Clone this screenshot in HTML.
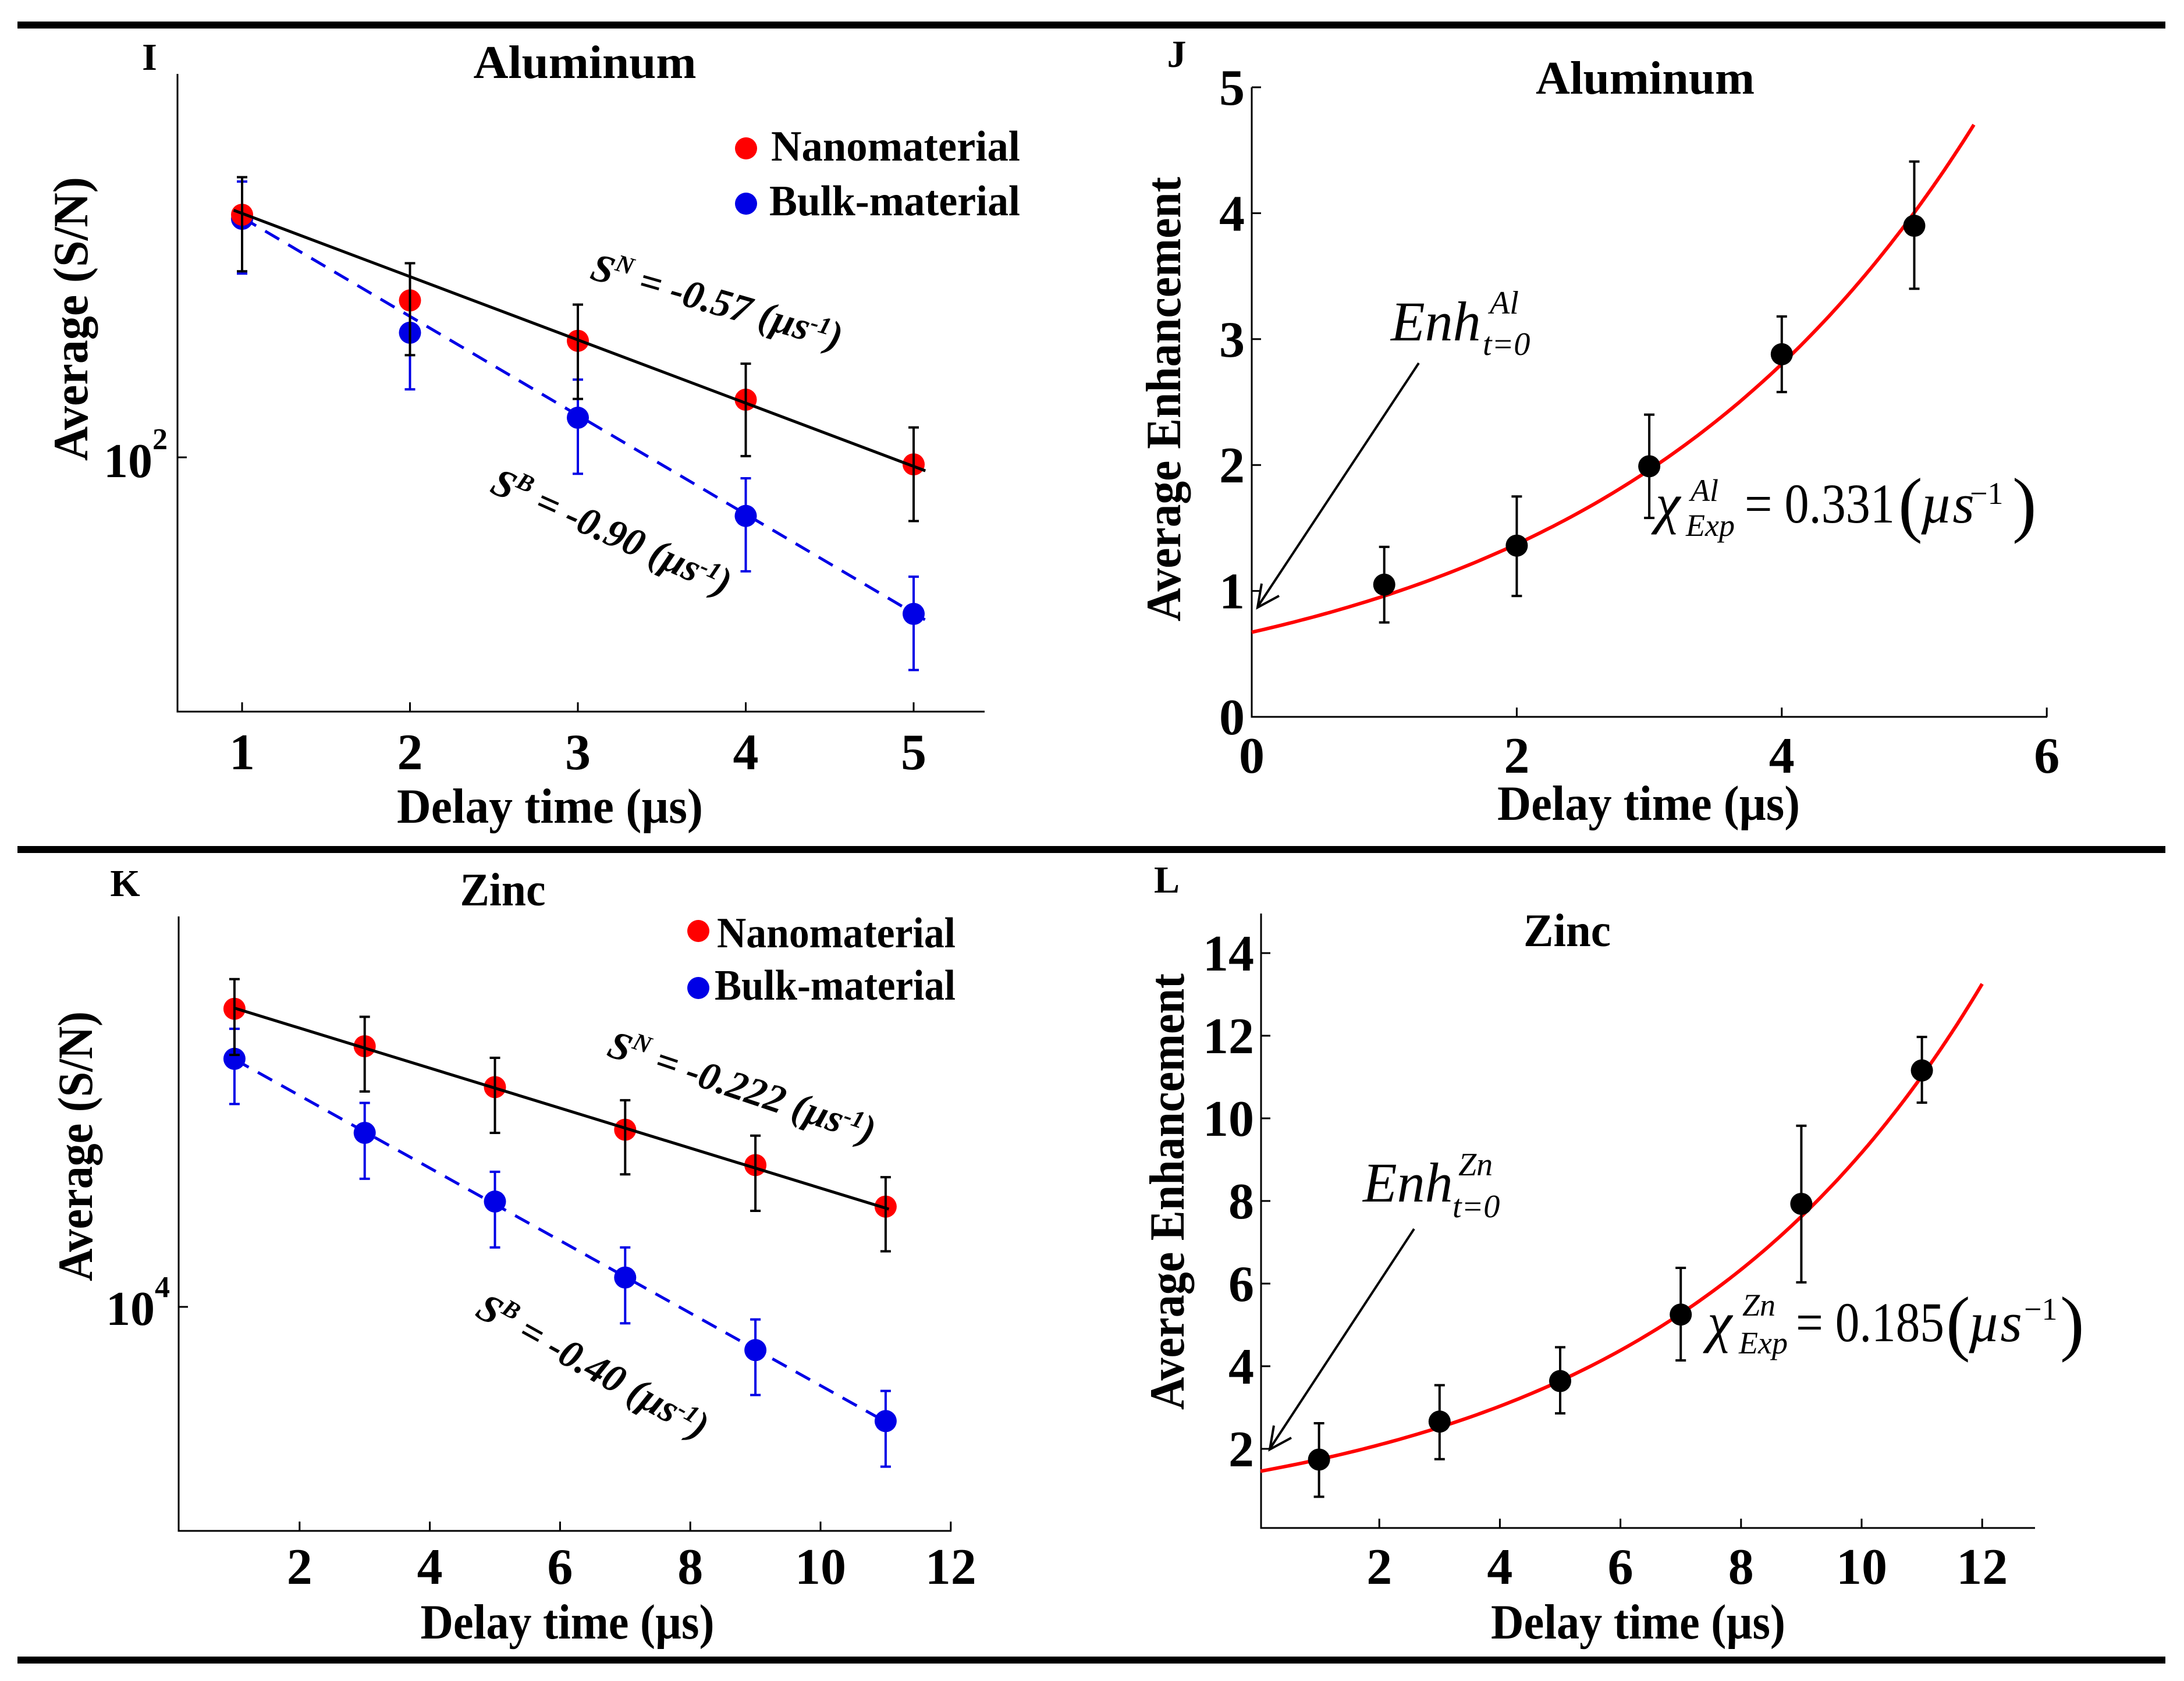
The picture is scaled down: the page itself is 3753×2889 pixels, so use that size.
<!DOCTYPE html>
<html><head><meta charset="utf-8"><title>Enhancement figure</title>
<style>
html,body{margin:0;padding:0;background:#fff;}
svg{display:block;}
text{font-family:"Liberation Serif",serif;}
.b{font-weight:bold;}
</style></head>
<body>
<svg id="fig" xmlns="http://www.w3.org/2000/svg" width="3753" height="2889" viewBox="0 0 3753 2889">
<rect x="0" y="0" width="3753" height="2889" fill="#fff"/>
<rect x="30" y="37" width="3691" height="12" fill="#000"/>
<rect x="30" y="1454" width="3691" height="12" fill="#000"/>
<rect x="30" y="2847" width="3691" height="12" fill="#000"/>

<!-- Panel I -->
<g id="pI">
<text x="257" y="120" class="b" font-size="66" text-anchor="middle">I</text>
<text x="1005" y="134" class="b" font-size="80" text-anchor="middle" textLength="383" lengthAdjust="spacingAndGlyphs">Aluminum</text>
<text transform="translate(150,548) rotate(-90)" class="b" font-size="85" text-anchor="middle" textLength="488" lengthAdjust="spacingAndGlyphs">Average (S/N)</text>
<text x="945" y="1414" class="b" font-size="85" text-anchor="middle" textLength="526" lengthAdjust="spacingAndGlyphs">Delay time (µs)</text>
<text x="178" y="820" class="b" font-size="84">10<tspan font-size="52" dy="-48">2</tspan></text>
<circle cx="1282" cy="255" r="19" fill="#f00"/>
<text x="1325" y="276" class="b" font-size="74" textLength="428" lengthAdjust="spacingAndGlyphs">Nanomaterial</text>
<circle cx="1282" cy="350" r="19" fill="#0000e6"/>
<text x="1322" y="370" class="b" font-size="74" textLength="431" lengthAdjust="spacingAndGlyphs">Bulk-material</text>
<text transform="translate(1226,540) rotate(16)" class="b" font-style="italic" font-size="68" text-anchor="middle">S<tspan font-size="42" dy="-26">N</tspan><tspan dy="26"> = -0.57 (µs</tspan><tspan font-size="42" dy="-20">-1</tspan><tspan dy="20">)</tspan></text>
<text transform="translate(1042,935) rotate(24)" class="b" font-style="italic" font-size="68" text-anchor="middle">S<tspan font-size="42" dy="-26">B</tspan><tspan dy="26"> = -0.90 (µs</tspan><tspan font-size="42" dy="-20">-1</tspan><tspan dy="20">)</tspan></text>
</g>

<!-- Panel J -->
<g id="pJ">
<text x="2022" y="115" class="b" font-size="66" text-anchor="middle">J</text>
<text x="2827" y="161" class="b" font-size="80" text-anchor="middle" textLength="376" lengthAdjust="spacingAndGlyphs">Aluminum</text>
<text transform="translate(2028,686) rotate(-90)" class="b" font-size="85" text-anchor="middle" textLength="764" lengthAdjust="spacingAndGlyphs">Average Enhancement</text>
<text x="2833" y="1409" class="b" font-size="85" text-anchor="middle" textLength="520" lengthAdjust="spacingAndGlyphs">Delay time (µs)</text>
<text x="2390" y="585" font-style="italic" font-size="96">Enh</text>
<text x="2560" y="539" font-style="italic" font-size="56">Al</text>
<text x="2548" y="610" font-style="italic" font-size="56">t=0</text>
<line x1="2438" y1="624" x2="2163" y2="1040" stroke="#000" stroke-width="4"/>
<polyline points="2168,1003 2161,1044 2198,1024" fill="none" stroke="#000" stroke-width="4"/>
<text x="2845" y="898" font-style="italic" font-size="96">χ</text>
<text x="2905" y="861" font-style="italic" font-size="54">Al</text>
<text x="2897" y="921" font-style="italic" font-size="54">Exp</text>
<text x="2998" y="898" font-size="96" textLength="258" lengthAdjust="spacingAndGlyphs">= 0.331</text>
<text x="3262" y="908" font-size="125">(</text>
<text x="3300" y="898" font-style="italic" font-size="96">µs</text>
<text x="3385" y="866" font-size="54">−1</text>
<text x="3458" y="908" font-size="125">)</text>
</g>

<!-- Panel K -->
<g id="pK">
<text x="215" y="1540" class="b" font-size="66" text-anchor="middle">K</text>
<text x="864" y="1556" class="b" font-size="80" text-anchor="middle" textLength="147" lengthAdjust="spacingAndGlyphs">Zinc</text>
<text transform="translate(158,1970) rotate(-90)" class="b" font-size="85" text-anchor="middle" textLength="464" lengthAdjust="spacingAndGlyphs">Average (S/N)</text>
<text x="975" y="2816" class="b" font-size="85" text-anchor="middle" textLength="505" lengthAdjust="spacingAndGlyphs">Delay time (µs)</text>
<text x="182" y="2277" class="b" font-size="84">10<tspan font-size="52" dy="-48">4</tspan></text>
<circle cx="1200" cy="1600" r="19" fill="#f00"/>
<text x="1232" y="1628" class="b" font-size="74" textLength="410" lengthAdjust="spacingAndGlyphs">Nanomaterial</text>
<circle cx="1200" cy="1698" r="19" fill="#0000e6"/>
<text x="1228" y="1718" class="b" font-size="74" textLength="414" lengthAdjust="spacingAndGlyphs">Bulk-material</text>
<text transform="translate(1268,1890) rotate(18.5)" class="b" font-style="italic" font-size="68" text-anchor="middle">S<tspan font-size="42" dy="-26">N</tspan><tspan dy="26"> = -0.222 (µs</tspan><tspan font-size="42" dy="-20">-1</tspan><tspan dy="20">)</tspan></text>
<text transform="translate(1008,2368) rotate(29)" class="b" font-style="italic" font-size="68" text-anchor="middle">S<tspan font-size="42" dy="-26">B</tspan><tspan dy="26"> = -0.40 (µs</tspan><tspan font-size="42" dy="-20">-1</tspan><tspan dy="20">)</tspan></text>
</g>

<!-- Panel L -->
<g id="pL">
<text x="2005" y="1534" class="b" font-size="66" text-anchor="middle">L</text>
<text x="2693" y="1626" class="b" font-size="80" text-anchor="middle" textLength="150" lengthAdjust="spacingAndGlyphs">Zinc</text>
<text transform="translate(2034,2048) rotate(-90)" class="b" font-size="85" text-anchor="middle" textLength="750" lengthAdjust="spacingAndGlyphs">Average Enhancement</text>
<text x="2815" y="2816" class="b" font-size="85" text-anchor="middle" textLength="506" lengthAdjust="spacingAndGlyphs">Delay time (µs)</text>
<text x="2342" y="2065" font-style="italic" font-size="96">Enh</text>
<text x="2506" y="2020" font-style="italic" font-size="56">Zn</text>
<text x="2496" y="2092" font-style="italic" font-size="56">t=0</text>
<line x1="2430" y1="2112" x2="2184" y2="2487" stroke="#000" stroke-width="4"/>
<polyline points="2189,2450 2182,2491 2219,2471" fill="none" stroke="#000" stroke-width="4"/>
<text x="2934" y="2305" font-style="italic" font-size="96">χ</text>
<text x="2994" y="2261" font-style="italic" font-size="54">Zn</text>
<text x="2988" y="2326" font-style="italic" font-size="54">Exp</text>
<text x="3086" y="2305" font-size="96" textLength="255" lengthAdjust="spacingAndGlyphs">= 0.185</text>
<text x="3344" y="2315" font-size="125">(</text>
<text x="3382" y="2305" font-style="italic" font-size="96">µs</text>
<text x="3478" y="2268" font-size="54">−1</text>
<text x="3540" y="2315" font-size="125">)</text>
</g>
</svg>

<script>
// ---------- Data ----------
// Panel I (Aluminum, S/N, log scale)
const alDelay = [1, 2, 3, 4, 5];
const alNano = [223, 168, 147, 121, 97.7];
const alNanoHi = [252.5, 190, 165.7, 136.3, 110.4];
const alNanoLo = [185.0, 140.2, 121.3, 100.4, 81.0];
const alBulk = [220, 151, 114, 82.4, 59.6];
const alBulkHi = [248.9, 171, 129.3, 93.3, 67.4];
const alBulkLo = [183.6, 125.2, 94.7, 68.6, 49.5];
const alFitNano = [224, 0.0908];   // value at t=1, log10 decay per µs
const alFitBulk = [221, 0.142];
const alXTicks = [1, 2, 3, 4, 5];

// Panel J (Aluminum enhancement)
const alEnh = [1.05, 1.36, 1.99, 2.88, 3.9];
const alEnhHi = [1.35, 1.75, 2.40, 3.18, 4.41];
const alEnhLo = [0.75, 0.96, 1.58, 2.58, 3.40];
const alEnhFit = [0.672, 0.357];   // amplitude, rate
const alEnhXTicks = [0, 2, 4, 6];
const alEnhYTicks = [0, 1, 2, 3, 4, 5];

// Panel K (Zinc, S/N, log scale)
const znDelay = [1, 3, 5, 7, 9, 11];
const znNano = [26340, 23320, 20420, 17780, 15850, 13850];
const znNanoHi = [29000, 25660, 22460, 19570, 17440, 15240];
const znNanoLo = [22670, 20130, 17600, 15380, 13660, 11980];
const znBulk = [22390, 17600, 14080, 11000, 8690, 6900];
const znBulkHi = [24680, 19400, 15510, 12130, 9600, 7610];
const znBulkLo = [19330, 15160, 12130, 9480, 7510, 5950];
const znFitNano = [26400, 0.02823];
const znFitBulk = [22350, 0.05115];
const znXTicks = [2, 4, 6, 8, 10, 12];

// Panel L (Zinc enhancement)
const znEnh = [1.74, 2.66, 3.64, 5.25, 7.93, 11.16];
const znEnhHi = [2.62, 3.54, 4.46, 6.38, 9.82, 11.97];
const znEnhLo = [0.84, 1.75, 2.86, 4.14, 6.03, 10.38];
const znEnhFit = [1.45, 0.1844];
const znEnhXTicks = [2, 4, 6, 8, 10, 12];
const znEnhYTicks = [2, 4, 6, 8, 10, 12, 14];

// ---------- Scales ----------
const NS = 'http://www.w3.org/2000/svg';
const xI = v => 416 + (v - 1) * 288.5;
const yI = v => 786 - Math.log10(v / 100) * 1197;
const xJ = v => 2151 + v * 227.7;
const yJ = v => 1232 - v * 216.4;
const xK = v => 291 + v * 111.9;
const yK = v => 2246 - Math.log10(v / 10000) * 1218;
const xL = v => 2163 + v * 103.6;
const yL = v => 2632 - v * 71.0;

function mk(tag, attrs, parent) {
  const el = document.createElementNS(NS, tag);
  for (const k in attrs) el.setAttribute(k, attrs[k]);
  parent.appendChild(el);
  return el;
}

function axes(g, left, top, right, bottom, prefix) {
  const a = mk('path', {d: `M${left},${top} L${left},${bottom} L${right},${bottom}`, fill: 'none', stroke: '#000', 'stroke-width': 3}, g);
  
  
}

function xTicks(g, ticks, xs, bottom, labelY, prefix) {
  ticks.forEach(t => {
    const tk = mk('line', {x1: xs(t), x2: xs(t), y1: bottom, y2: bottom - 16, stroke: '#000', 'stroke-width': 3}, g);
    
    
    const lb = mk('text', {x: xs(t), y: labelY, 'text-anchor': 'middle', 'font-size': 88, 'font-weight': 'bold'}, g);
    lb.textContent = String(t);
    
    
  });
}

function yTicks(g, ticks, ys, left, labelX, prefix) {
  ticks.forEach(t => {
    const tk = mk('line', {x1: left, x2: left + 16, y1: ys(t), y2: ys(t), stroke: '#000', 'stroke-width': 3}, g);
    
    
    const lb = mk('text', {x: labelX, y: ys(t) + 30, 'text-anchor': 'end', 'font-size': 88, 'font-weight': 'bold'}, g);
    lb.textContent = String(t);
    
    
  });
}

function errBars(g, xsData, lo, hi, xs, ys, color, name) {
  xsData.forEach((x, i) => {
    const px = xs(x), y1 = ys(hi[i]), y2 = ys(lo[i]);
    const e = mk('path', {d: `M${px},${y1} L${px},${y2} M${px-9},${y1} L${px+9},${y1} M${px-9},${y2} L${px+9},${y2}`, stroke: color, 'stroke-width': 4, fill: 'none'}, g);
    
    
  });
}

function points(g, xsData, vals, xs, ys, color, name) {
  xsData.forEach((x, i) => {
    const c = mk('ellipse', {cx: xs(x), cy: ys(vals[i]), rx: 19, ry: 19, fill: color}, g);
    
    
  });
}

function logFit(g, fit, x0, x1, xs, ys, color, dash, name) {
  const v = t => fit[0] * Math.pow(10, -fit[1] * (t - 1));
  const attrs = {x1: xs(x0), y1: ys(v(x0)), x2: xs(x1), y2: ys(v(x1)), stroke: color, 'stroke-width': 5};
  if (dash) attrs['stroke-dasharray'] = '28 18';
  const l = mk('line', attrs, g);
  
  
}

function expFit(g, fit, x0, x1, xs, ys, name) {
  let d = '';
  for (let i = 0; i <= 120; i++) {
    const t = x0 + (x1 - x0) * i / 120;
    d += (i ? 'L' : 'M') + xs(t).toFixed(1) + ',' + ys(fit[0] * Math.exp(fit[1] * t)).toFixed(1);
  }
  const p = mk('path', {d: d, fill: 'none', stroke: '#f00', 'stroke-width': 6}, g);
  
  
}

// ---------- Panel I ----------
const gI = document.getElementById('pI');
axes(gI, 305, 127, 1692, 1223, 'al-sn');
xTicks(gI, alXTicks, xI, 1223, 1322, 'al-sn');
const tI = mk('line', {x1: 305, x2: 321, y1: yI(100), y2: yI(100), stroke: '#000', 'stroke-width': 3}, gI);


logFit(gI, alFitBulk, 1, 5.1, xI, yI, '#0000e6', true, 'fit-line-bulk-al');
errBars(gI, alDelay, alBulkLo, alBulkHi, xI, yI, '#0000e6', 'error-bar-bulk-al');
points(gI, alDelay, alBulk, xI, yI, '#0000e6', 'point-bulk-al');
points(gI, alDelay, alNano, xI, yI, '#f00', 'point-nano-al');
logFit(gI, alFitNano, 0.95, 5.07, xI, yI, '#000', false, 'fit-line-nano-al');
errBars(gI, alDelay, alNanoLo, alNanoHi, xI, yI, '#000', 'error-bar-nano-al');

// ---------- Panel J ----------
const gJ = document.getElementById('pJ');
axes(gJ, 2151, 150, 3518, 1232, 'al-enh');
xTicks(gJ, alEnhXTicks, xJ, 1232, 1328, 'al-enh');
yTicks(gJ, alEnhYTicks, yJ, 2151, 2139, 'al-enh');
expFit(gJ, alEnhFit, 0, 5.45, xJ, yJ, 'fit-curve-al');
errBars(gJ, alDelay, alEnhLo, alEnhHi, xJ, yJ, '#000', 'error-bar-enh-al');
points(gJ, alDelay, alEnh, xJ, yJ, '#000', 'point-enh-al');

// ---------- Panel K ----------
const gK = document.getElementById('pK');
axes(gK, 307, 1575, 1635, 2631, 'zn-sn');
xTicks(gK, znXTicks, xK, 2631, 2722, 'zn-sn');
const tK = mk('line', {x1: 307, x2: 323, y1: yK(10000), y2: yK(10000), stroke: '#000', 'stroke-width': 3}, gK);


logFit(gK, znFitBulk, 1, 11, xK, yK, '#0000e6', true, 'fit-line-bulk-zn');
errBars(gK, znDelay, znBulkLo, znBulkHi, xK, yK, '#0000e6', 'error-bar-bulk-zn');
points(gK, znDelay, znBulk, xK, yK, '#0000e6', 'point-bulk-zn');
points(gK, znDelay, znNano, xK, yK, '#f00', 'point-nano-zn');
logFit(gK, znFitNano, 1, 11.05, xK, yK, '#000', false, 'fit-line-nano-zn');
errBars(gK, znDelay, znNanoLo, znNanoHi, xK, yK, '#000', 'error-bar-nano-zn');

// ---------- Panel L ----------
const gL = document.getElementById('pL');
axes(gL, 2167, 1570, 3497, 2626, 'zn-enh');
xTicks(gL, znEnhXTicks, xL, 2626, 2722, 'zn-enh');
yTicks(gL, znEnhYTicks, yL, 2167, 2155, 'zn-enh');
expFit(gL, znEnhFit, 0.03, 12, xL, yL, 'fit-curve-zn');
errBars(gL, znDelay, znEnhLo, znEnhHi, xL, yL, '#000', 'error-bar-enh-zn');
points(gL, znDelay, znEnh, xL, yL, '#000', 'point-enh-zn');
</script>
</body></html>
